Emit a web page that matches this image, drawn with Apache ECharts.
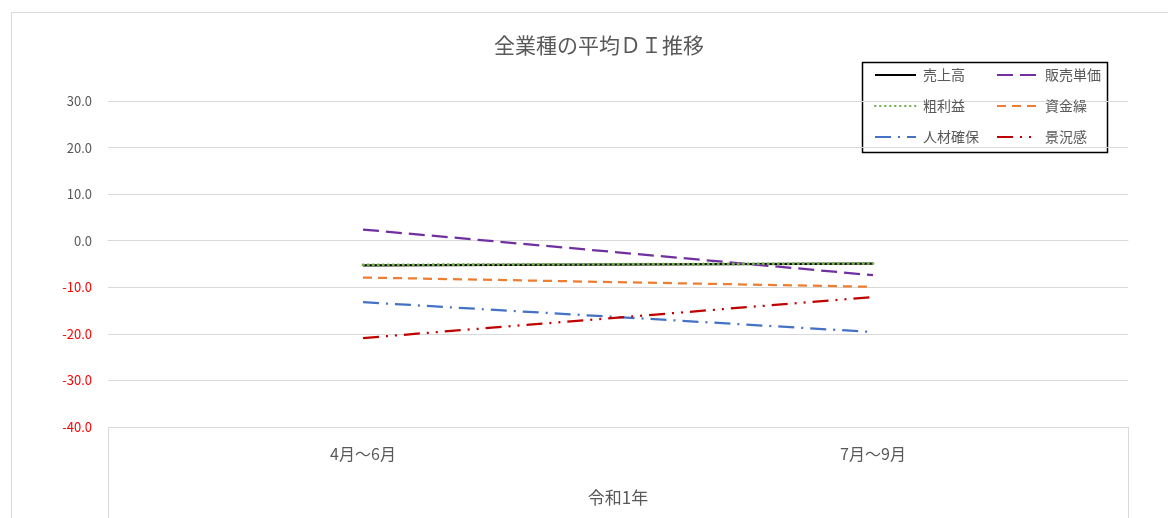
<!DOCTYPE html>
<html lang="ja">
<head>
<meta charset="utf-8">
<title>全業種の平均ＤＩ推移</title>
<script src="https://cdn.jsdelivr.net/npm/echarts@6/dist/echarts.min.js"></script>
<style>
  html, body { margin: 0; padding: 0; background: #fff; }
  #chart { width: 1168px; height: 518px; }
</style>
</head>
<body>
<div id="chart"></div>
<script>
// Quarter labels and the year group beneath them
const categories = ['4月～6月', '7月～9月'];
const yearGroup = ['令和1年'];

// DI values per indicator
const uriage = [-5.3, -4.9];      // 売上高
const hanbaiTanka = [2.4, -7.4];  // 販売単価
const arari = [-5.2, -4.9];       // 粗利益
const shikinguri = [-7.9, -9.9];  // 資金繰
const jinzai = [-13.2, -19.6];    // 人材確保
const keikyo = [-20.9, -12.1];    // 景況感

// Y axis range and step
const yMin = -40, yMax = 30, yStep = 10;

const FONT = '"Noto Sans CJK JP", "Noto Sans", sans-serif';
const TEXT = '#595959';
const GRID_LINE = '#d9d9d9';

const seriesDefs = [
  { name: '売上高', data: uriage, color: '#000000', dash: 'solid', width: 2.25 },
  { name: '販売単価', data: hanbaiTanka, color: '#7030A0', dash: [16, 7], width: 2.25 },
  { name: '粗利益', data: arari, color: '#70AD47', dash: [0.5, 4.5], cap: 'round', width: 2.75 },
  { name: '資金繰', data: shikinguri, color: '#ED7D31', dash: [9, 6], width: 2.25 },
  { name: '人材確保', data: jinzai, color: '#4472C4', dash: [16, 7, 2, 7], width: 2.25 },
  { name: '景況感', data: keikyo, color: '#C00000', dash: [16, 7, 2, 7, 2, 7], width: 2.25 }
];

// Legend laid out as a 2-column grid, one component per entry
const legendCols = [874, 996];
const legendRows = [68, 99, 130];
const legends = seriesDefs.map((s, i) => ({
  data: [s.name],
  left: legendCols[i % 2],
  top: legendRows[Math.floor(i / 2)],
  padding: 0,
  itemWidth: 41,
  itemHeight: 14,
  selectedMode: false,
  itemStyle: { opacity: 0 },
  textStyle: { color: TEXT, fontSize: 14, fontFamily: FONT, padding: [0, 0, 0, 2] }
}));

const chart = echarts.init(document.getElementById('chart'), null, { renderer: 'canvas' });

chart.setOption({
  animation: false,
  backgroundColor: '#ffffff',
  title: {
    text: '全業種の平均ＤＩ推移',
    left: 594,
    top: 30,
    textAlign: 'center',
    textStyle: { color: TEXT, fontSize: 21, fontWeight: 'normal', fontFamily: FONT }
  },
  legend: legends,
  graphic: [
    { type: 'rect', shape: { x: 11.5, y: 12.5, width: 1200, height: 600 },
      style: { fill: 'none', stroke: GRID_LINE, lineWidth: 1 }, silent: true, z: -1 },
    { type: 'rect', shape: { x: 862.5, y: 62.5, width: 245, height: 90 },
      style: { fill: 'none', stroke: '#000000', lineWidth: 1.5 }, silent: true }
  ],
  grid: { left: 108, right: 40, top: 101, bottom: 91, containLabel: false },
  xAxis: [
    {
      type: 'category',
      data: categories,
      boundaryGap: true,
      axisLine: { show: true, lineStyle: { color: GRID_LINE, width: 1 } },
      axisTick: { show: false },
      axisLabel: { color: TEXT, fontSize: 16, fontFamily: FONT, margin: 19 }
    },
    {
      type: 'category',
      data: yearGroup,
      position: 'bottom',
      boundaryGap: true,
      axisLine: { show: false },
      axisTick: { show: true, length: 100, lineStyle: { color: GRID_LINE, width: 1 } },
      axisLabel: { color: TEXT, fontSize: 17, fontFamily: FONT, margin: 62 }
    }
  ],
  yAxis: {
    type: 'value',
    min: yMin,
    max: yMax,
    interval: yStep,
    axisLine: { show: false },
    axisTick: { show: false },
    splitLine: { lineStyle: { color: GRID_LINE, width: 1 } },
    axisLabel: {
      margin: 16,
      fontSize: 13,
      fontFamily: FONT,
      formatter: v => (v < 0 ? '{neg|' : '{pos|') + v.toFixed(1) + '}',
      rich: {
        pos: { color: TEXT, fontSize: 13, fontFamily: FONT },
        neg: { color: '#FF0000', fontSize: 13, fontFamily: FONT }
      }
    }
  },
  series: seriesDefs.map((s, i) => ({
    name: s.name,
    type: 'line',
    xAxisIndex: 0,
    data: s.data,
    symbol: 'none',
    showSymbol: false,
    z: 2 + i,
    lineStyle: { color: s.color, width: s.width, type: s.dash, cap: s.cap || 'butt' },
    itemStyle: { color: s.color }
  }))
});
</script>
</body>
</html>
